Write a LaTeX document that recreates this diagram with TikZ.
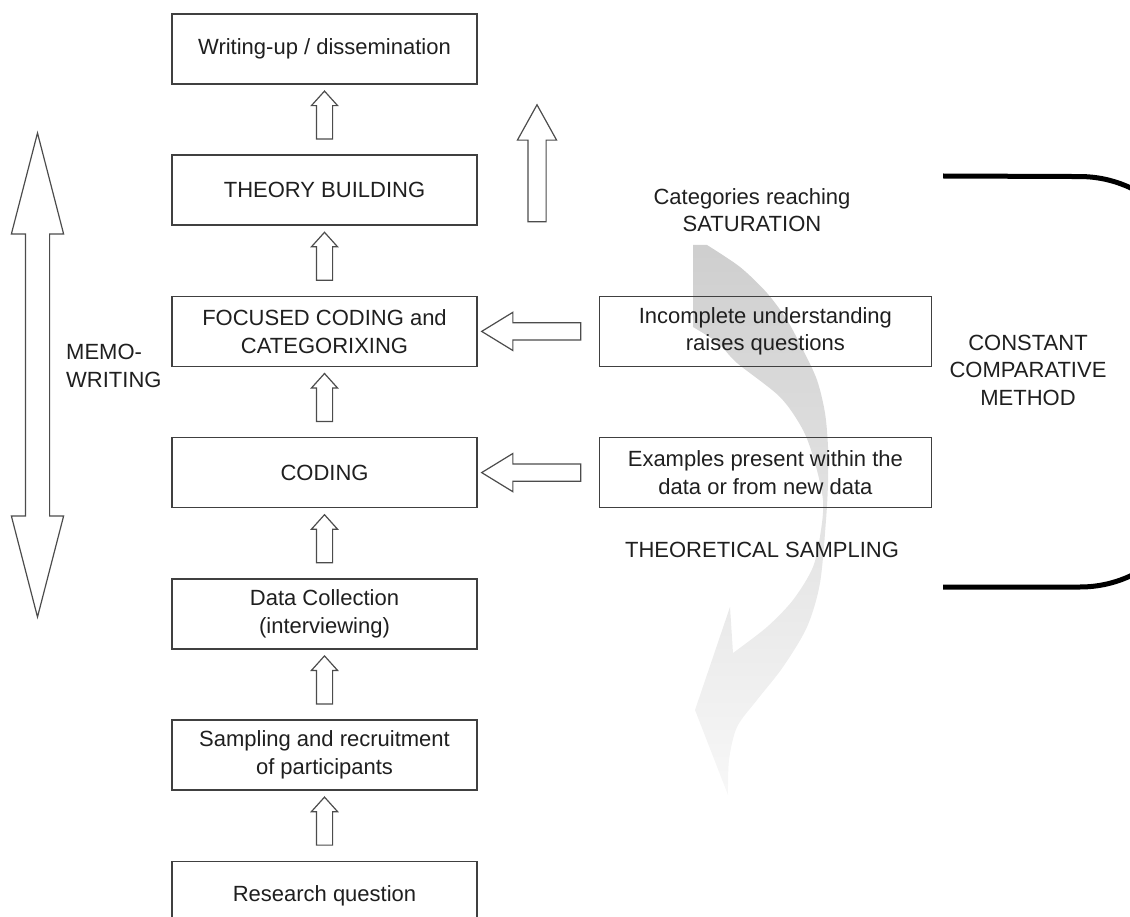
\documentclass[tikz,border=0pt]{standalone}
\usepackage{fontspec}
\setmainfont{Liberation Sans}
\usepackage{tikz}
\usetikzlibrary{shapes.arrows,positioning,calc}

\begin{document}
\begin{tikzpicture}[
  x=1pt, y=-1pt,
  node distance=69.8pt and 121pt,
  font=\fontsize{22}{27.5}\selectfont,
  stage/.style={rectangle, draw=black!75, line width=1.4pt, text=black!88,
                minimum width=305pt, minimum height=70pt, align=center, inner sep=0pt},
  query/.style={stage, minimum width=332pt},
  remark/.style={text=black!88, align=center, inner sep=0pt},
  hollow/.style={draw=black!70, line width=1.2pt, fill=white, inner xsep=0pt},
  steparrow/.style={hollow, single arrow, rotate=90, inner ysep=7.5pt, minimum height=48pt,
                    single arrow head extend=5pt, single arrow tip angle=84},
  feedarrow/.style={hollow, single arrow, rotate=180, inner ysep=8pt, minimum height=99pt,
                    single arrow head extend=10.5pt, single arrow tip angle=63},
  exitarrow/.style={hollow, single arrow, rotate=90, inner ysep=8.5pt, minimum height=117pt,
                    single arrow head extend=10.5pt, single arrow tip angle=58},
  memoarrow/.style={hollow, double arrow, rotate=90, inner ysep=11.5pt, minimum height=484pt,
                    double arrow head extend=14pt, double arrow tip angle=29}
]
\useasboundingbox (0,0) rectangle (1130,917);
\clip (0,0) rectangle (1130,917);

% --- Grey loop behind the right column ---
\shade[top color=black!19, bottom color=black!3]
  (693,245) -- plot[smooth] coordinates {(707,245) (740,267) (767,293) (787,320) (803,350)
    (817,380) (825,413) (828,447) (828,483) (826,520) (820,583) (807,627) (783,667)
    (757,700) (737,727) (729,760) (728,795)}
  -- (695,710) -- (730,607)
  -- plot[smooth] coordinates {(733,653) (767,627) (793,600) (813,567) (821,530) (823,500)
    (815,463) (803,430) (780,397) (737,363) (718,343) (693,327)} -- cycle;

% --- Stages ---
\node[stage] (writeup) at (324.5,49) {Writing-up / dissemination};
\node[stage, below=of writeup] (theory)   {THEORY BUILDING};
\node[stage, below=of theory]  (focus)    {FOCUSED CODING and\\CATEGORIXING};
\node[stage, below=of focus]   (coding)   {CODING};
\node[stage, below=of coding]  (collect)  {Data Collection\\(interviewing)};
\node[stage, below=of collect] (recruit)  {Sampling and recruitment\\of participants};
\node[stage, below=of recruit] (question) {Research question};

\node[query, right=of focus]  (incomplete) {Incomplete understanding\\raises questions};
\node[query, right=of coding] (examples)   {Examples present within the\\data or from new data};

% --- Arrows ---
\node[steparrow] at ($(question.north)!0.5!(recruit.south)$) {};
\node[steparrow] at ($(recruit.north)!0.5!(collect.south)$) {};
\node[steparrow] at ($(collect.north)!0.5!(coding.south)$) {};
\node[steparrow] at ($(coding.north)!0.5!(focus.south)$) {};
\node[steparrow] at ($(focus.north)!0.5!(theory.south)$) {};
\node[steparrow] at ($(theory.north)!0.5!(writeup.south)$) {};

\node[feedarrow] at ($(incomplete.west)!0.5!(focus.east)$) {};
\node[feedarrow] at ($(examples.west)!0.5!(coding.east)$) {};

\node[exitarrow] (exit) at (537,171.5) {};
\node[memoarrow] (memo) at (37.5,375) {};

% --- Texts ---
\node[remark, anchor=west, align=left] (memotext) at (66,366) {MEMO-\\WRITING};
\node[remark] (saturation) at (752,210) {Categories reaching\\SATURATION};
\node[remark] (sampling) at (762,550) {THEORETICAL SAMPLING};
\node[remark] (method) at (1028,370) {CONSTANT\\COMPARATIVE\\METHOD};

% --- Bracket ---
\draw[line width=5pt, rounded corners=120pt] (943,176) -- (1200,177) -- (1200,587) -- (943,587);

\end{tikzpicture}
\end{document}
